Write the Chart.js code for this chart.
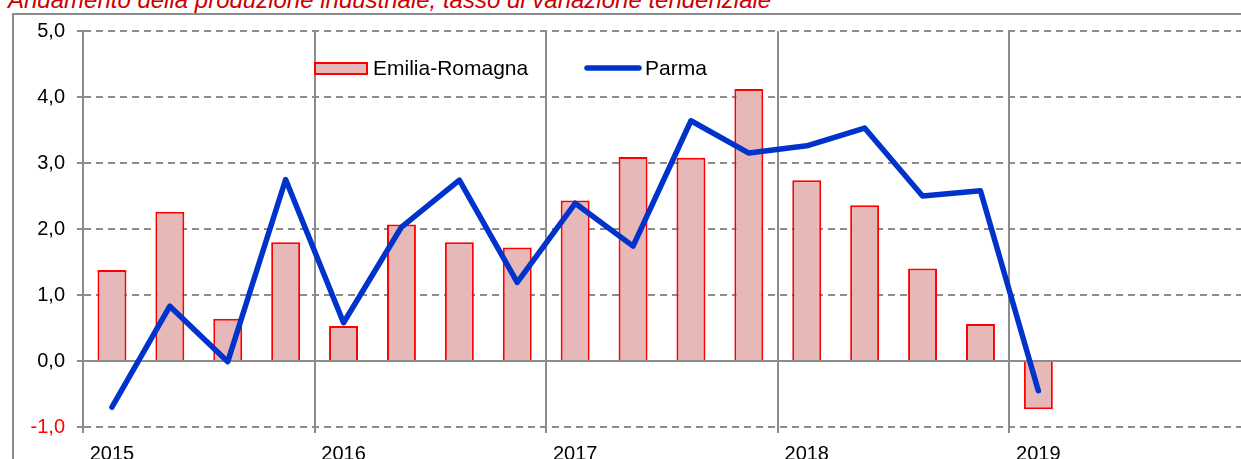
<!DOCTYPE html>
<html>
<head>
<meta charset="utf-8">
<script src="https://cdn.jsdelivr.net/npm/chart.js@4/dist/chart.umd.min.js"></script>
<style>
  html, body { margin: 0; padding: 0; background: #fff; overflow: hidden; }
  #wrap { position: relative; width: 1241px; height: 459px; }
  #frame { position: absolute; left: 12px; top: 13px; width: 1300px; height: 500px;
           border: 2px solid #8c8c8c; box-sizing: border-box; }
  #title { position: absolute; left: 8px; top: -12px; white-space: nowrap;
           font: italic 24px "Liberation Sans", Arial, sans-serif; line-height: 24px; color: #cc0000; }
  #chart { position: absolute; left: 0; top: 0; }
</style>
</head>
<body>
<div id="wrap">
  <div id="frame"></div>
  <div id="title">Andamento della produzione industriale, tasso di variazione tendenziale</div>
  <canvas id="chart" width="1241" height="459"></canvas>
</div>
<script>
// trimestri 2015-2019
const quarters = [
  '2015 T1', '2015 T2', '2015 T3', '2015 T4',
  '2016 T1', '2016 T2', '2016 T3', '2016 T4',
  '2017 T1', '2017 T2', '2017 T3', '2017 T4',
  '2018 T1', '2018 T2', '2018 T3', '2018 T4',
  '2019 T1', '2019 T2', '2019 T3', '2019 T4'
];
const yearTicks = [
  '2015', '', '', '',
  '2016', '', '', '',
  '2017', '', '', '',
  '2018', '', '', '',
  '2019', '', '', ''
];
const emiliaRomagna = [1.38, 2.26, 0.64, 1.80, 0.53, 2.07, 1.80, 1.72, 2.43, 3.09, 3.08, 4.12, 2.74, 2.36, 1.40, 0.56, -0.73];
const parma = [-0.70, 0.83, -0.01, 2.75, 0.58, 2.03, 2.74, 1.19, 2.39, 1.74, 3.64, 3.15, 3.26, 3.53, 2.50, 2.58, -0.45];

const FONT = '"Liberation Sans", Arial, sans-serif';
const GRID = '#8c8c8c';

// legenda dentro l'area del grafico
const inlineLegend = {
  id: 'inlineLegend',
  afterDraw(chart) {
    const ctx = chart.ctx;
    const bar = chart.data.datasets[1];
    const line = chart.data.datasets[0];
    ctx.save();
    ctx.font = '21px ' + FONT;
    ctx.textBaseline = 'middle';
    ctx.fillStyle = bar.backgroundColor;
    ctx.fillRect(315, 63, 52, 11);
    ctx.strokeStyle = bar.borderColor;
    ctx.lineWidth = 2;
    ctx.strokeRect(315, 63, 52, 11);
    ctx.fillStyle = '#000';
    ctx.fillText(bar.label, 373, 69);

    ctx.strokeStyle = line.borderColor;
    ctx.lineWidth = line.borderWidth;
    ctx.lineCap = 'round';
    ctx.beginPath();
    ctx.moveTo(587, 68);
    ctx.lineTo(639, 68);
    ctx.stroke();
    ctx.fillText(line.label, 645, 69);
    ctx.restore();
  }
};

new Chart(document.getElementById('chart'), {
  type: 'bar',
  data: {
    labels: quarters,
    datasets: [
      {
        type: 'line',
        label: 'Parma',
        data: parma,
        borderColor: '#0033cc',
        borderWidth: 5.5,
        borderCapStyle: 'round',
        borderJoinStyle: 'round',
        pointRadius: 0,
        tension: 0,
        order: 0
      },
      {
        type: 'bar',
        label: 'Emilia-Romagna',
        data: emiliaRomagna,
        backgroundColor: '#e6b9b8',
        borderColor: '#ff0000',
        borderWidth: 2,
        categoryPercentage: 1,
        barPercentage: 0.5,
        order: 1
      }
    ]
  },
  options: {
    responsive: false,
    animation: false,
    layout: { padding: { top: 31, left: 0, right: 0, bottom: 0 } },
    plugins: {
      legend: { display: false },
      tooltip: { enabled: false }
    },
    scales: {
      x: {
        offset: true,
        afterFit: s => { s.height = 32; },
        grid: {
          offset: true,
          lineWidth: 2,
          tickLength: 6,
          color: c => (c.index !== undefined && c.index % 4 === 0) ? GRID : 'rgba(0,0,0,0)'
        },
        border: { display: false },
        ticks: {
          autoSkip: false,
          maxRotation: 0,
          padding: 9,
          color: '#000',
          font: { family: FONT, size: 20 },
          callback: (v, i) => yearTicks[i]
        }
      },
      y: {
        min: -1,
        max: 5,
        afterFit: s => { s.width = 83; },
        grid: {
          color: GRID,
          lineWidth: 2,
          tickLength: 6
        },
        border: {
          display: true,
          color: GRID,
          width: 2,
          dash: c => (c.tick && c.tick.value === 0) ? [] : [7, 5]
        },
        ticks: {
          stepSize: 1,
          padding: 12,
          font: { family: FONT, size: 20 },
          color: c => (c.tick && c.tick.value < 0) ? '#ff0000' : '#000',
          callback: v => v.toFixed(1).replace('.', ',')
        }
      }
    }
  },
  plugins: [inlineLegend]
});
</script>
</body>
</html>
